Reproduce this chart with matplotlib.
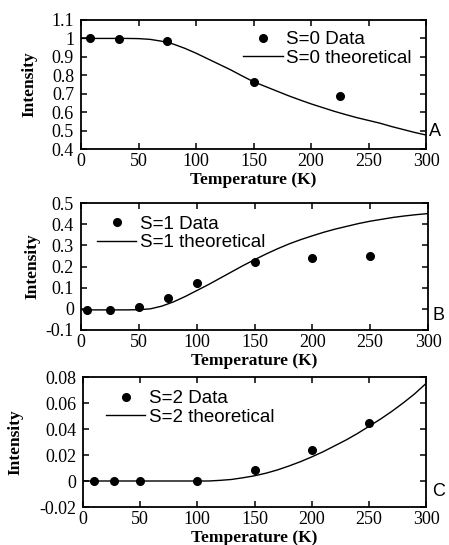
import matplotlib
matplotlib.use('Agg')
import matplotlib.pyplot as plt

# temperature grid of the theoretical curves (every 10 K)
temp_curve = [0, 10, 20, 30, 40, 50, 60, 70, 80, 90, 100, 110, 120, 130, 140, 150,
              160, 170, 180, 190, 200, 210, 220, 230, 240, 250, 260, 270, 280, 290, 300]

# panel A: S=0
s0_temp = [8, 33, 75, 150, 225]
s0_data = [1.0, 0.998, 0.985, 0.765, 0.685]
s0_theory = [1.0, 1.0, 1.0, 1.0, 1.0, 0.999, 0.995, 0.985, 0.97, 0.947, 0.92,
             0.89, 0.86, 0.83, 0.797, 0.765, 0.74, 0.715, 0.69, 0.667, 0.645,
             0.625, 0.605, 0.587, 0.57, 0.555, 0.54, 0.522, 0.506, 0.49, 0.476]

# panel B: S=1
s1_temp = [5, 25, 50, 75, 100, 150, 200, 250]
s1_data = [-0.004, -0.004, 0.008, 0.053, 0.122, 0.22, 0.239, 0.248]
s1_theory = [-0.005, -0.005, -0.005, -0.005, -0.005, -0.004, 0.0, 0.013, 0.033,
             0.058, 0.086, 0.114, 0.144, 0.174, 0.204, 0.232, 0.259, 0.284,
             0.307, 0.327, 0.345, 0.362, 0.377, 0.39, 0.403, 0.414, 0.423,
             0.432, 0.439, 0.445, 0.45]

# panel C: S=2
s2_temp = [10, 27, 50, 100, 150, 200, 250]
s2_data = [0.0, 0.0, 0.0, 0.0, 0.0082, 0.024, 0.0448]
s2_theory = [0, 0, 0, 0, 0, 0, 0, 0, 0, 0, 0, 0, 0.0005, 0.0012, 0.0025, 0.004,
             0.006, 0.0085, 0.0115, 0.0148, 0.0185, 0.0225, 0.027, 0.0315,
             0.0365, 0.042, 0.0475, 0.0535, 0.06, 0.067, 0.075]

xticks = [0, 50, 100, 150, 200, 250, 300]

panels = [
    dict(t=s0_temp, d=s0_data, th=s0_theory, name='S=0', letter='A',
         ylim=(0.4, 1.1),
         yticks=[0.4, 0.5, 0.6, 0.7, 0.8, 0.9, 1.0, 1.1],
         ylabels=['0.4', '0.5', '0.6', '0.7', '0.8', '0.9', '1', '1.1'],
         rect=[81, 20, 345, 129], leg=(0.47, 0.915), ylab_x=-0.125,
         xlab_pad=1, letter_xy=(429, 132)),
    dict(t=s1_temp, d=s1_data, th=s1_theory, name='S=1', letter='B',
         ylim=(-0.1, 0.5),
         yticks=[-0.1, 0, 0.1, 0.2, 0.3, 0.4, 0.5],
         ylabels=['-0.1', '0', '0.1', '0.2', '0.3', '0.4', '0.5'],
         rect=[81, 203, 347, 127], leg=(0.046, 0.90), ylab_x=-0.118,
         xlab_pad=1, letter_xy=(433, 315)),
    dict(t=s2_temp, d=s2_data, th=s2_theory, name='S=2', letter='C',
         ylim=(-0.02, 0.08),
         yticks=[-0.02, 0, 0.02, 0.04, 0.06, 0.08],
         ylabels=['-0.02', '0', '0.02', '0.04', '0.06', '0.08'],
         rect=[83, 377, 343, 130], leg=(0.067, 0.90), ylab_x=-0.175,
         xlab_pad=1.5, letter_xy=(432, 492)),
]

W, H = 449, 545
fig = plt.figure(figsize=(W / 100, H / 100), dpi=100)

serif = 'Liberation Serif'
sans = 'Liberation Sans'

for p in panels:
    x0, top, w, h = p['rect']
    ax = fig.add_axes([x0 / W, (H - top - h) / H, w / W, h / H])
    line, = ax.plot(temp_curve, p['th'], color='black', lw=1.0, zorder=2)
    dots, = ax.plot(p['t'], p['d'], 'o', color='black', markersize=5.5,
                    linestyle='none', zorder=3)
    ax.set_xlim(0, 300)
    ax.set_ylim(*p['ylim'])
    ax.set_xticks(xticks)
    ax.set_xticklabels([str(v) for v in xticks], fontfamily=serif, fontsize=13)
    ax.set_yticks(p['yticks'])
    ax.set_yticklabels(p['ylabels'], fontfamily=serif, fontsize=13)
    ax.tick_params(direction='in', top=True, right=True, length=4, width=1.1)
    ax.tick_params(axis='x', pad=3)
    ax.tick_params(axis='y', pad=5)
    for s in ax.spines.values():
        s.set_linewidth(1.3)
    ax.set_xlabel('Temperature (K)', fontfamily=serif, fontweight='bold',
                  fontsize=12.5, labelpad=p['xlab_pad'])
    ax.set_ylabel('Intensity', fontfamily=serif, fontweight='bold', fontsize=12.5)
    ax.yaxis.set_label_coords(p['ylab_x'], 0.5)
    ax.legend([dots, line], [p['name'] + ' Data', p['name'] + ' theoretical'],
              loc='upper left', bbox_to_anchor=p['leg'], frameon=False,
              borderpad=0, borderaxespad=0, handlelength=2.1, handletextpad=0.2,
              labelspacing=0.08, prop={'family': sans, 'size': 13.5})
    lx, ly = p['letter_xy']
    fig.text(lx / W, 1 - ly / H, p['letter'], fontfamily=sans, fontsize=13,
             ha='left', va='center')

fig.savefig('out.png', dpi=100)
